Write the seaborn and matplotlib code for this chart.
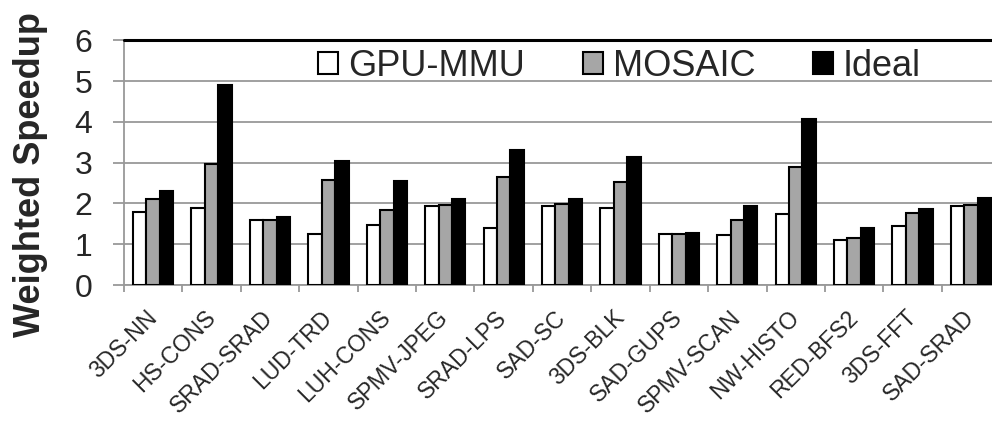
import numpy as np
import pandas as pd
import matplotlib
matplotlib.use("Agg")
import matplotlib.pyplot as plt
import seaborn as sns
from matplotlib.ticker import FixedLocator

# ---------------- data ----------------
workloads = ["3DS-NN", "HS-CONS", "SRAD-SRAD", "LUD-TRD", "LUH-CONS", "SPMV-JPEG",
             "SRAD-LPS", "SAD-SC", "3DS-BLK", "SAD-GUPS", "SPMV-SCAN", "NW-HISTO",
             "RED-BFS2", "3DS-FFT", "SAD-SRAD"]
gpu_mmu = [1.79, 1.90, 1.59, 1.24, 1.48, 1.94, 1.39, 1.93, 1.90, 1.24, 1.22, 1.75, 1.11, 1.45, 1.93]
mosaic = [2.11, 2.96, 1.60, 2.57, 1.85, 1.97, 2.66, 1.98, 2.52, 1.24, 1.59, 2.90, 1.16, 1.76, 1.97]
ideal = [2.30, 4.91, 1.67, 3.03, 2.54, 2.10, 3.31, 2.11, 3.13, 1.28, 1.95, 4.06, 1.41, 1.86, 2.13]
series = ["GPU-MMU", "MOSAIC", "Ideal"]
colors = {"GPU-MMU": "white", "MOSAIC": "#a6a6a6", "Ideal": "black"}

df = pd.DataFrame({"Workload": workloads * 3,
                   "Config": np.repeat(series, len(workloads)),
                   "Speedup": gpu_mmu + mosaic + ideal})

# ---------------- plot ----------------
sns.set_style("white")
plt.rcParams["font.family"] = ["Liberation Sans", "DejaVu Sans"]

fig = plt.figure(figsize=(9.92, 4.23), dpi=100)
ax = fig.add_axes([0.125, 0.326, 0.875, 0.579])

sns.barplot(data=df, x="Workload", y="Speedup", hue="Config", hue_order=series,
            palette=colors, width=0.69, gap=0, edgecolor="black", linewidth=1.5,
            saturation=1, ax=ax, zorder=3)

ax.set_ylim(0, 6)
ax.set_xlim(-0.5, 14.36)
ax.set_yticks(range(0, 7))
ax.yaxis.grid(True, color="#999999", linewidth=1.3, zorder=0)
ax.axhline(6, color="black", linewidth=2.2, zorder=4, clip_on=False)

for s in ["top", "right"]:
    ax.spines[s].set_visible(False)
for s in ["left", "bottom"]:
    ax.spines[s].set_color("#999999")
    ax.spines[s].set_linewidth(1.3)

ax.tick_params(axis="y", which="major", direction="out", length=8, width=1.3,
               color="#999999", labelsize=23, pad=15, left=True)
ax.tick_params(axis="x", which="major", length=0, labelsize=16.5, pad=21)
ax.xaxis.set_minor_locator(FixedLocator(np.arange(-0.5, 15, 1)))
ax.tick_params(axis="x", which="minor", direction="out", length=5, width=1.3,
               color="#999999", bottom=True)
plt.setp(ax.get_xticklabels(), rotation=45, ha="right", va="center",
         rotation_mode="anchor")

ax.set_xlabel("")
ax.set_ylabel("Weighted Speedup", fontsize=26, fontweight="bold")
ax.yaxis.set_label_coords(-0.087, 0.45)

ax.legend(title=None, ncol=3, frameon=False, loc="center",
          bbox_to_anchor=(0.571, 0.894), fontsize=26, handlelength=0.55,
          handleheight=0.55, handletextpad=0.28, columnspacing=1.6)

fig.savefig("out.png", dpi=100)
